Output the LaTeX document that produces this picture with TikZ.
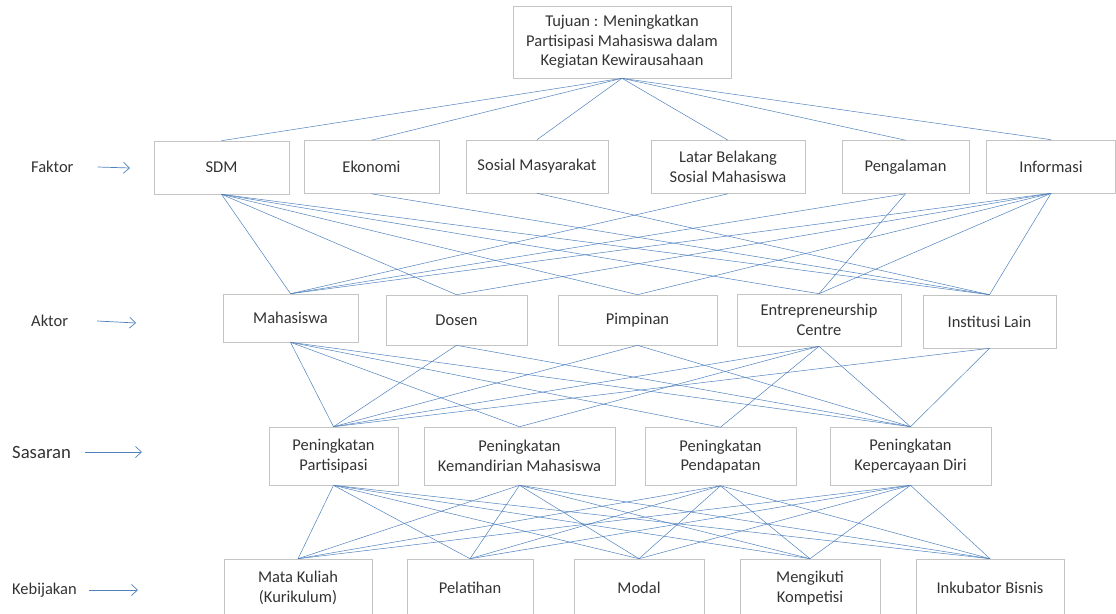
\documentclass[tikz,border=0pt]{standalone}
\usepackage{fontspec}
\setmainfont{Carlito}
\usetikzlibrary{arrows.meta}
\definecolor{linkblue}{RGB}{79,129,189}
\definecolor{boxgray}{RGB}{196,196,196}
\tikzstyle{Arrow}=[linkblue, line width=0.7pt, -{Straight Barb[length=6pt,width=11pt]}]

\begin{document}
\begin{tikzpicture}[
  x=1pt, y=-1pt,
  every node/.style={font=\fontsize{16.5}{19.5}\selectfont, text=black!80},
  Box/.style={draw=boxgray, line width=0.6pt, align=center, inner sep=0, minimum height=53pt},
  Link/.style={linkblue, line width=0.5pt},
  Level/.style={anchor=west, inner sep=0}
]
\useasboundingbox (0,0) rectangle (1116,613);

\node[Box, minimum width=218pt, minimum height=72pt] (tujuan) at (622,42) {Tujuan : Meningkatkan\\Partisipasi Mahasiswa dalam\\Kegiatan Kewirausahaan};

% faktor
\node[Box, minimum width=135pt] (sdm) at (221.5,167.5) {SDM};
\node[Box, minimum width=135pt] (eko) at (371.5,167) {Ekonomi};
\node[Box, minimum width=142pt] (sos) at (537,166.5) {Sosial Masyarakat};
\node[Box, minimum width=154pt] (latar) at (728,167) {Latar Belakang\\Sosial Mahasiswa};
\node[Box, minimum width=127pt] (peng) at (905.5,167) {Pengalaman};
\node[Box, minimum width=129pt] (info) at (1051,166.5) {Informasi};

% aktor
\node[Box, minimum width=135pt, minimum height=48pt] (mhs) at (290.5,318) {Mahasiswa};
\node[Box, minimum width=141pt, minimum height=50pt] (dosen) at (456.5,320) {Dosen};
\node[Box, minimum width=159pt, minimum height=50pt] (pimpinan) at (637.5,320) {Pimpinan};
\node[Box, minimum width=164pt, minimum height=52pt] (ec) at (819,320) {Entrepreneurship\\Centre};
\node[Box, minimum width=133pt, minimum height=53pt] (inst) at (989.5,321.5) {Institusi Lain};

% sasaran
\node[Box, minimum width=129pt, minimum height=58pt] (partisipasi) at (333.5,456) {Peningkatan\\Partisipasi};
\node[Box, minimum width=191pt, minimum height=58pt] (kemandirian) at (519.5,456) {Peningkatan\\Kemandirian Mahasiswa};
\node[Box, minimum width=151pt, minimum height=58pt] (pendapatan) at (720.5,456.5) {Peningkatan\\Pendapatan};
\node[Box, minimum width=161pt, minimum height=58pt] (kepercayaan) at (910.5,456) {Peningkatan\\Kepercayaan Diri};

% kebijakan
\node[Box, minimum width=148pt, minimum height=58pt] (matkul) at (298,588) {Mata Kuliah\\(Kurikulum)};
\node[Box, minimum width=126pt, minimum height=58pt] (pelatihan) at (470,588) {Pelatihan};
\node[Box, minimum width=130pt, minimum height=58pt] (modal) at (639,588) {Modal};
\node[Box, minimum width=140pt, minimum height=58pt] (kompetisi) at (810,588) {Mengikuti\\Kompetisi};
\node[Box, minimum width=148pt, minimum height=58pt] (inkubator) at (990,588) {Inkubator Bisnis};

% level labels
\node[Level] (faktor) at (31,167) {Faktor};
\node[Level] (aktor) at (31,321) {Aktor};
\node[Level, font=\fontsize{18.7}{22}\selectfont] (sasaran) at (12,452) {Sasaran};
\node[Level] (kebijakan) at (12,590) {Kebijakan};
\coordinate (faktorTip) at (130,168);
\coordinate (aktorTip) at (136,323);
\coordinate (sasaranTip) at (142,452);
\coordinate (kebijakanTip) at (138,590);
\draw[Arrow] ([xshift=24pt]faktor.east) to (faktorTip);
\draw[Arrow] ([xshift=29pt]aktor.east) to (aktorTip);
\draw[Arrow] ([xshift=14pt]sasaran.east) to (sasaranTip);
\draw[Arrow] ([xshift=12pt]kebijakan.east) to (kebijakanTip);

% links
\foreach \b in {sdm,eko,sos,latar,peng,info}
  \draw[Link] (tujuan.south) to (\b.north);
\foreach \a/\b in {sdm/mhs, sdm/dosen, sdm/pimpinan, sdm/ec, sdm/inst, eko/inst, sos/inst,
    latar/mhs, peng/mhs, peng/ec, info/mhs, info/dosen, info/pimpinan, info/ec, info/inst}
  \draw[Link] (\a.south) to (\b.north);
\foreach \a/\b in {mhs/partisipasi, mhs/kemandirian, mhs/pendapatan, mhs/kepercayaan,
    dosen/partisipasi, dosen/kepercayaan, pimpinan/partisipasi, pimpinan/kepercayaan,
    ec/partisipasi, ec/kemandirian, ec/pendapatan, ec/kepercayaan, inst/partisipasi, inst/kepercayaan}
  \draw[Link] (\a.south) to (\b.north);
\foreach \a in {partisipasi,kemandirian,pendapatan,kepercayaan}
  \foreach \b in {matkul,pelatihan,modal,kompetisi,inkubator}
    \draw[Link] (\a.south) to (\b.north);

\end{tikzpicture}
\end{document}
